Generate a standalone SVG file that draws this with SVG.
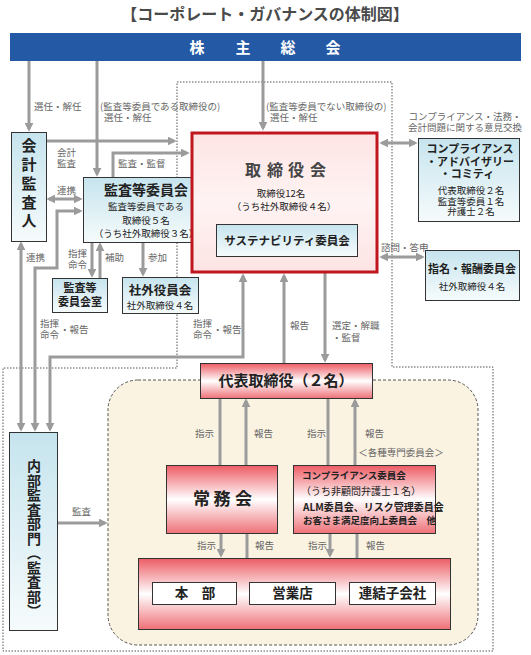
<svg xmlns="http://www.w3.org/2000/svg" width="531" height="655" viewBox="0 0 531 655">
<defs>
<linearGradient id="gBlue" x1="0" y1="0" x2="0" y2="1">
<stop offset="0" stop-color="#c6e4ee"/><stop offset="1" stop-color="#f6fbfc"/>
</linearGradient>
<linearGradient id="gRed" x1="0" y1="0" x2="0" y2="1">
<stop offset="0" stop-color="#ec5c64"/><stop offset="0.5" stop-color="#ffffff"/><stop offset="1" stop-color="#ee7077"/>
</linearGradient>
<linearGradient id="gPink" x1="0" y1="0" x2="0" y2="1">
<stop offset="0" stop-color="#fde4e4"/><stop offset="0.5" stop-color="#fff3f3"/><stop offset="1" stop-color="#fde4e4"/>
</linearGradient>
<marker id="ah" viewBox="0 0 10 10" markerWidth="9" markerHeight="9" refX="7" refY="5" markerUnits="userSpaceOnUse" orient="auto-start-reverse">
<path d="M0,0 L10,5 L0,10 z" fill="#9b9b9b"/>
</marker>
</defs>
<style>
text{font-family:"Noto Sans CJK JP","Noto Sans",sans-serif}
.c{fill:none;stroke:#9b9b9b;stroke-width:3}
.a{marker-end:url(#ah)}
.aa{marker-start:url(#ah);marker-end:url(#ah)}
.lb{font-size:9.5px;fill:#666}
.bx{stroke:#333;stroke-width:1}
.blue{fill:url(#gBlue)}
.red{fill:url(#gRed)}
.t{fill:#222;text-anchor:middle}
.b{font-weight:bold}
.s{font-size:9.5px}
</style>
<rect width="531" height="655" fill="#ffffff"/>

<text x="265" y="20" text-anchor="middle" font-size="16" font-weight="bold" fill="#4a4a4a">【コーポレート・ガバナンスの体制図】</text>

<g id="shareholders">
<rect x="10" y="33" width="511" height="28" fill="#2459a6"/>
<text x="197 243 288 333" y="52.5" text-anchor="middle" font-size="15" font-weight="bold" fill="#ffffff">株主総会</text>
</g>

<g id="frames">
<path d="M177,82 H392 V367 H493 V651 H3 V368 H177 Z" fill="none" stroke="#555" stroke-width="1" stroke-dasharray="1.5 1.5"/>
<rect x="108" y="380" width="370" height="265" rx="30" fill="#fbf3e2" stroke="#555" stroke-width="1" stroke-dasharray="3 2"/>
</g>

<g id="connectors">
<path class="c a" d="M29,61 V129"/>
<path class="c a" d="M97,61 V174"/>
<path class="c a" d="M263,61 V128"/>
<path class="c a" d="M46,141 H174"/>
<path class="c a" d="M113,177 V153 H187"/>
<path class="c aa" d="M49,199 H80"/>
<path class="c aa" d="M21,429 V244"/>
<path class="c aa" d="M35,429 V268 H57 V211 H80"/>
<path class="c aa" d="M50,429 V357 H243 V276"/>
<path class="c a" d="M284,363 V276"/>
<path class="c a" d="M325,273 V360"/>
<path class="c aa" d="M382,143 H415"/>
<path class="c aa" d="M382,257 H422"/>
<path class="c a" d="M92,242 V275"/>
<path class="c a" d="M100,278 V245"/>
<path class="c a" d="M143,242 V274"/>
<path class="c" d="M220,398 V465"/>
<path class="c a" d="M246,465 V401"/>
<path class="c" d="M328,398 V465"/>
<path class="c a" d="M355,465 V401"/>
<path class="c a" d="M221,533 V555"/>
<path class="c" d="M247,558 V533"/>
<path class="c a" d="M330,533 V555"/>
<path class="c" d="M357,558 V533"/>
<path class="c a" d="M57,523 H105"/>

<text class="lb" x="34" y="109.5">選任・解任</text>
<text class="lb"><tspan x="100" y="109.5">(監査等委員である取締役の)</tspan><tspan x="104" y="120.5">選任・解任</tspan></text>
<text class="lb"><tspan x="266" y="109.5">(監査等委員でない取締役の)</tspan><tspan x="270" y="120.5">選任・解任</tspan></text>
<text class="lb" text-anchor="middle"><tspan x="465" y="119.5">コンプライアンス・法務・</tspan><tspan x="465" y="130.5">会計問題に関する意見交換</tspan></text>
<text class="lb"><tspan x="57" y="155.5">会計</tspan><tspan x="57" y="166.5">監査</tspan></text>
<text class="lb" x="118" y="166.5">監査・監督</text>
<text class="lb" x="57" y="193.5">連携</text>
<text class="lb" x="26" y="260.5">連携</text>
<text class="lb"><tspan x="68" y="256.5">指揮</tspan><tspan x="68" y="267.5">命令</tspan></text>
<text class="lb" x="105" y="260.5">補助</text>
<text class="lb" x="148" y="260.5">参加</text>
<text class="lb" x="381" y="250.5">諮問・答申</text>
<text class="lb"><tspan x="40" y="326.5">指揮</tspan><tspan x="40" y="337.5">命令</tspan><tspan x="60" y="332.5">・報告</tspan></text>
<text class="lb"><tspan x="193" y="326.5">指揮</tspan><tspan x="193" y="337.5">命令</tspan><tspan x="213" y="332.5">・報告</tspan></text>
<text class="lb" x="290" y="328.5">報告</text>
<text class="lb"><tspan x="332" y="328.5">選定・解職</tspan><tspan x="332" y="340.5">・監督</tspan></text>
<text class="lb" x="195" y="436.5">指示</text>
<text class="lb" x="254" y="436.5">報告</text>
<text class="lb" x="307" y="436.5">指示</text>
<text class="lb" x="365" y="436.5">報告</text>
<text class="lb" x="401" y="456" text-anchor="middle" font-size="8.5">＜各種専門委員会＞</text>
<text class="lb" x="197" y="548.5">指示</text>
<text class="lb" x="255" y="548.5">報告</text>
<text class="lb" x="308" y="548.5">指示</text>
<text class="lb" x="366" y="548.5">報告</text>
<text class="lb" x="72" y="514.5">監査</text>
</g>

<g id="auditor">
<rect class="bx blue" x="11.5" y="132.5" width="35" height="109"/>
<text class="t b" font-size="15"><tspan x="29" y="151.3">会</tspan><tspan x="29" y="170">計</tspan><tspan x="29" y="188.8">監</tspan><tspan x="29" y="207.5">査</tspan><tspan x="29" y="226.3">人</tspan></text>
</g>

<g id="audit-committee">
<rect class="bx blue" x="83.5" y="177.5" width="126" height="65"/>
<text class="t b" x="146" y="195" font-size="14">監査等委員会</text>
<text class="t s"><tspan x="146" y="209.6">監査等委員である</tspan><tspan x="146" y="223.6">取締役５名</tspan><tspan x="146" y="236.6">（うち社外取締役３名）</tspan></text>
</g>

<g id="audit-office">
<rect class="bx blue" x="52.5" y="278.5" width="55" height="34"/>
<text class="t b" font-size="11"><tspan x="80" y="292">監査等</tspan><tspan x="80" y="306">委員会室</tspan></text>
</g>

<g id="outside-officers">
<rect class="bx blue" x="122.5" y="277.5" width="76" height="36"/>
<text class="t b" x="160" y="294.5" font-size="12.5">社外役員会</text>
<text class="t s" x="160" y="308.6">社外取締役４名</text>
</g>

<g id="board">
<rect x="192" y="133" width="185" height="139" fill="url(#gPink)" stroke="#c0161e" stroke-width="3"/>
<text x="253 275 296 318" y="175.6" text-anchor="middle" font-size="16" font-weight="bold" fill="#444">取締役会</text>
<text class="t s"><tspan x="281" y="196.7">取締役12名</tspan><tspan x="284" y="209.7">（うち社外取締役４名）</tspan></text>
</g>

<g id="sustainability">
<rect class="bx blue" x="216.5" y="224.5" width="141" height="32"/>
<text class="t b" x="287" y="245" font-size="11.5">サステナビリティ委員会</text>
</g>

<g id="compliance-advisory">
<rect class="bx blue" x="418.5" y="138.5" width="101" height="83"/>
<text class="t b" font-size="11"><tspan x="470" y="153">コンプライアンス</tspan><tspan x="470" y="166">・アドバイザリー</tspan><tspan x="467" y="177.5">・コミティ</tspan></text>
<text class="t s"><tspan x="471" y="194.4">代表取締役２名</tspan><tspan x="471" y="205.4">監査等委員１名</tspan><tspan x="471" y="215.4">弁護士２名</tspan></text>
</g>

<g id="nomination">
<rect class="bx blue" x="425.5" y="250.5" width="94" height="50"/>
<text class="t b" x="472" y="273" font-size="11">指名・報酬委員会</text>
<text class="t s" x="472" y="290.4">社外取締役４名</text>
</g>

<g id="representative">
<rect class="bx red" x="200.5" y="363.5" width="172" height="35"/>
<text class="t b" x="286" y="386.3" font-size="15">代表取締役（２名）</text>
</g>

<g id="executive-committee">
<rect class="bx red" x="166.5" y="465.5" width="111" height="68"/>
<text x="201.5 222 243.5" y="505" text-anchor="middle" font-size="17" font-weight="bold" fill="#222">常務会</text>
</g>

<g id="compliance-committee">
<rect class="bx red" x="293.5" y="465.5" width="142" height="68"/>
<text fill="#222"><tspan x="302" y="479" font-size="9.5" font-weight="bold">コンプライアンス委員会</tspan><tspan x="301" y="495.4" font-size="10">（うち非顧問弁護士１名）</tspan><tspan x="303" y="510.6" font-size="10" font-weight="bold">ALM委員会、リスク管理委員会</tspan><tspan x="303" y="523.6" font-size="9.5" font-weight="bold">お客さま満足度向上委員会　他</tspan></text>
</g>

<g id="operations">
<rect class="bx red" x="138.5" y="558.5" width="312" height="71"/>
<rect class="bx" x="152.5" y="582.5" width="84" height="22" fill="#fff"/>
<rect class="bx" x="249.5" y="582.5" width="86" height="22" fill="#fff"/>
<rect class="bx" x="349.5" y="582.5" width="86" height="22" fill="#fff"/>
<text class="t b" x="195" y="598" font-size="13.5">本　部</text>
<text class="t b" x="292.5" y="598" font-size="13.5">営業店</text>
<text class="t b" x="392.5" y="598" font-size="13.5">連結子会社</text>
</g>

<g id="internal-audit">
<rect class="bx blue" x="9.5" y="432.5" width="48" height="198"/>
<text x="34" y="459" font-size="14" font-weight="bold" fill="#222" letter-spacing="0.5" style="writing-mode:vertical-rl">内部監査部門（監査部）</text>
</g>
</svg>
